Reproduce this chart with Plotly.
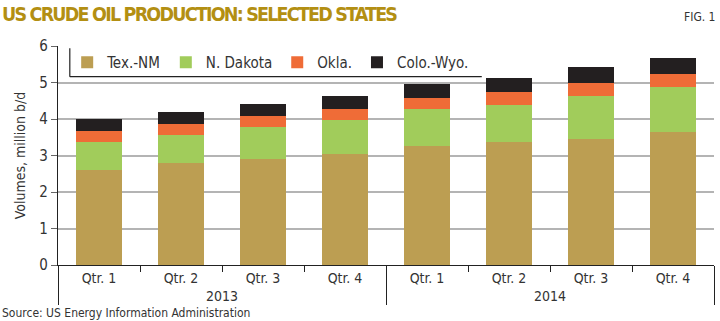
import plotly.graph_objects as go

# Quarterly crude oil production, million b/d
years = ["2013"] * 4 + ["2014"] * 4
quarters = ["Qtr. 1", "Qtr. 2", "Qtr. 3", "Qtr. 4"] * 2
tex_nm = [2.60, 2.79, 2.90, 3.04, 3.25, 3.36, 3.45, 3.65]
n_dakota = [0.76, 0.78, 0.87, 0.93, 1.03, 1.02, 1.17, 1.23]
okla = [0.30, 0.30, 0.30, 0.31, 0.29, 0.35, 0.36, 0.35]
colo_wyo = [0.35, 0.33, 0.34, 0.34, 0.39, 0.39, 0.44, 0.44]
y_ticks = [0, 1, 2, 3, 4, 5, 6]

series = [
    ("Tex.-NM", tex_nm, "#bc9e52"),
    ("N. Dakota", n_dakota, "#a1cc5b"),
    ("Okla.", okla, "#ef6c37"),
    ("Colo.-Wyo.", colo_wyo, "#231f20"),
]

FONT = "DejaVu Sans Condensed, Liberation Sans Narrow, sans-serif"

fig = go.Figure()
for name, vals, color in series:
    fig.add_trace(go.Bar(
        x=[years, quarters], y=vals, name=name,
        marker=dict(color=color, line=dict(width=0)),
    ))

fig.update_layout(
    width=720, height=321,
    barmode="stack", bargap=0.43,
    margin=dict(l=58, r=6, t=46, b=56),
    paper_bgcolor="white", plot_bgcolor="white",
    font=dict(family=FONT, color="#333333", size=14),
    showlegend=True,
    legend=dict(
        orientation="h", x=0.014, y=1.0, xanchor="left", yanchor="top",
        bgcolor="rgba(0,0,0,0)", font=dict(size=15, color="#333333"),
        itemwidth=30, traceorder="normal",
    ),
    yaxis=dict(
        range=[0, 6], tickvals=y_ticks, showgrid=True,
        gridcolor="#b4b4b4", gridwidth=1.5,
        showline=True, linecolor="#222222", linewidth=1.2,
        ticks="outside", ticklen=6, tickcolor="#666666",
        tickfont=dict(size=15, color="#333333"), zeroline=False,
        title=dict(text="Volumes, million b/d", font=dict(size=14, color="#333333"), standoff=10),
    ),
    xaxis=dict(
        type="multicategory", range=[-0.5, 7.5],
        showline=True, linecolor="#222222", linewidth=1.2,
        ticks="outside", tickson="boundaries", ticklen=6, tickcolor="#222222",
        showdividers=True, dividercolor="#222222", dividerwidth=1.2,
        tickfont=dict(size=14, color="#333333"),
    ),
)

# Legend frame: left and bottom edges
fig.add_shape(type="line", xref="paper", yref="paper",
              x0=0.018, x1=0.018, y0=0.99, y1=0.86,
              line=dict(color="#222222", width=1.2), layer="above")
fig.add_shape(type="line", xref="paper", yref="paper",
              x0=0.018, x1=0.646, y0=0.86, y1=0.86,
              line=dict(color="#222222", width=1.2), layer="above")

fig.add_annotation(text='<span style="letter-spacing:-1.8px">US CRUDE OIL PRODUCTION: SELECTED STATES</span>',
                   xref="paper", yref="paper", x=-58 / 656, y=1 + 45 / 219,
                   xanchor="left", yanchor="top", showarrow=False,
                   font=dict(family=FONT, size=19.5, color="#b38f12", weight="bold"))
fig.add_annotation(text="FIG. 1", xref="paper", yref="paper",
                   x=1 + 3 / 656, y=1 + 29 / 219, xanchor="right", yanchor="middle",
                   showarrow=False, font=dict(family=FONT, size=12, color="#333333"))
fig.add_annotation(text="Source: US Energy Information Administration",
                   xref="paper", yref="paper", x=-58 / 656, y=-48 / 219,
                   xanchor="left", yanchor="middle", showarrow=False,
                   font=dict(family=FONT, size=12, color="#333333"))

fig.write_html("out.html")
